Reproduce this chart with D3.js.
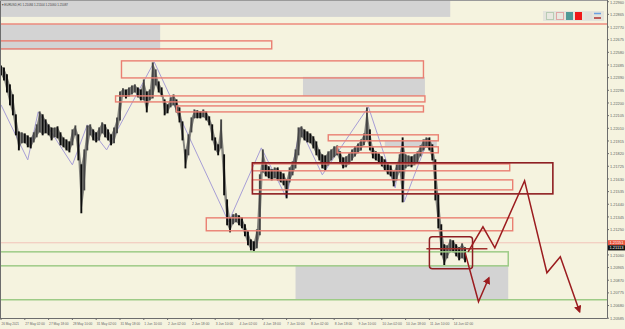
<!DOCTYPE html>
<html><head><meta charset="utf-8">
<script src="https://cdnjs.cloudflare.com/ajax/libs/d3/7.8.5/d3.min.js"></script>
<style>html,body{margin:0;padding:0;background:#f5f3df;}svg{display:block;font-family:"Liberation Sans",Arial,sans-serif;}</style>
</head><body><svg id="c" width="625" height="329"></svg>
<script>
// ---- DATA ----
const symbolTitle = "\u25BE EURUSD,H1  1.21084 1.21104 1.21060 1.21087";
// bar highs / lows, one entry per 2 H1 bars starting 26 May 10:00
const barHigh = [1.22478,1.22463,1.22411,1.22336,1.22261,1.22111,1.21983,1.21976,1.21968,1.21953,
1.21938,1.21976,1.22036,1.22133,1.22111,1.22073,1.22036,1.22013,1.22013,1.22021,
1.21976,1.21938,1.21923,1.21908,1.21998,1.22028,1.21961,1.21736,1.21848,1.22028,
1.22036,1.21998,1.21976,1.22013,1.22051,1.22036,1.21998,1.21961,1.22013,1.22088,
1.22283,1.22306,1.22298,1.22313,1.22328,1.22336,1.22313,1.22298,1.22373,1.22283,
1.22298,1.22501,1.22448,1.22358,1.22313,1.22223,1.22186,1.22238,1.22261,1.22223,
1.22163,1.22058,1.21848,1.21961,1.22088,1.22148,1.22141,1.22133,1.22148,1.22133,
1.22096,1.22036,1.21938,1.21886,1.22073,1.21811,1.21473,1.21338,1.21361,1.21368,
1.21353,1.21338,1.21286,1.21233,1.21173,1.21158,1.21248,1.21661,1.21848,1.21751,
1.21721,1.21698,1.21713,1.21713,1.21683,1.21668,1.21623,1.21713,1.21758,1.21848,
1.22013,1.22021,1.21998,1.21983,1.21968,1.21946,1.21908,1.21848,1.21811,1.21803,
1.21833,1.21848,1.21871,1.21878,1.21833,1.21788,1.21796,1.21818,1.21848,1.21871,
1.21893,1.21923,1.21968,1.22163,1.21998,1.21863,1.21833,1.21818,1.21796,1.21773,
1.21743,1.21728,1.21683,1.21736,1.21811,1.21938,1.21811,1.21803,1.21796,1.21811,
1.21833,1.21878,1.21923,1.21938,1.21938,1.21886,1.21773,1.21511,1.21286,1.21136,
1.21128,1.21173,1.21166,1.21136,1.21113,1.21143,1.21113];
const barLow = [1.22411,1.22373,1.22283,1.22186,1.22111,1.21961,1.21848,1.21901,1.21901,1.21871,
1.21863,1.21908,1.21946,1.21983,1.21961,1.21976,1.21961,1.21923,1.21946,1.21938,
1.21886,1.21871,1.21848,1.21833,1.21886,1.21961,1.21773,1.21376,1.21548,1.21848,
1.21961,1.21923,1.21908,1.21923,1.21976,1.21946,1.21923,1.21886,1.21901,1.21976,
1.22073,1.22253,1.22238,1.22253,1.22268,1.22283,1.22246,1.22223,1.22223,1.22133,
1.22223,1.22238,1.22336,1.22283,1.22253,1.22111,1.22126,1.22171,1.22186,1.22133,
1.22058,1.21923,1.21713,1.21811,1.21983,1.22088,1.22088,1.22088,1.22096,1.22073,
1.22036,1.21923,1.21848,1.21811,1.21863,1.21511,1.21286,1.21233,1.21293,1.21308,
1.21286,1.21263,1.21203,1.21136,1.21098,1.21091,1.21113,1.21211,1.21683,1.21653,
1.21638,1.21623,1.21638,1.21623,1.21608,1.21586,1.21488,1.21608,1.21661,1.21713,
1.21811,1.21946,1.21923,1.21908,1.21901,1.21863,1.21811,1.21773,1.21713,1.21698,
1.21736,1.21773,1.21796,1.21811,1.21751,1.21713,1.21721,1.21743,1.21773,1.21803,
1.21826,1.21848,1.21886,1.21923,1.21848,1.21788,1.21773,1.21758,1.21728,1.21698,
1.21668,1.21653,1.21578,1.21623,1.21683,1.21458,1.21713,1.21728,1.21721,1.21736,
1.21758,1.21803,1.21848,1.21871,1.21848,1.21773,1.21473,1.21263,1.21061,1.20986,
1.21038,1.21083,1.21083,1.21053,1.21023,1.21038,1.21008];
const barStep = 2;

// zigzag indicator vertices [bar index, price]
const zigzagBars   = [0, 18, 25, 48, 58, 71, 103, 153, 175, 192, 201, 216, 247, 265, 270, 271, 287];
const zigzagPrices = [1.22186,1.21773,1.22133,1.21736,1.22036,1.21848,1.22508,1.21308,1.21863,1.21488,1.22013,1.21661,1.22171,1.21563,1.21923,1.21458,1.21923];

// price axis labels
const priceTicks = ["1.22960","1.22865","1.22770","1.22675","1.22580","1.22485","1.22390","1.22295","1.22200","1.22105","1.22010","1.21915","1.21820","1.21725","1.21630","1.21535","1.21440","1.21345","1.21250","1.21155","1.21060","1.20965","1.20870","1.20775","1.20680","1.20585"];
// time axis labels (every 16 bars)
const timeTicks = ["26 May 2021","27 May 02:00","27 May 18:00","28 May 10:00","31 May 02:00","31 May 18:00","1 Jun 10:00","2 Jun 02:00","2 Jun 18:00","3 Jun 10:00","4 Jun 02:00","4 Jun 18:00","7 Jun 10:00","8 Jun 02:00","8 Jun 18:00","9 Jun 10:00","10 Jun 02:00","10 Jun 18:00","11 Jun 10:00","14 Jun 02:00"];
const timeTickStep = 16;

// zones: [startBar, endBar, topPrice, bottomPrice]
const greyZones = [[-2,302,1.22966,1.22846],[-2,107,1.22793,1.22598],[203,285,1.22396,1.22253],[258,293,1.21916,1.21871],[198,341,1.20978,1.20723]];
const redZones = [[-2,182,1.22666,1.22606],[81,284,1.22516,1.22388],[77,285,1.22253,1.22208],[118,284,1.22178,1.22133],[220,294,1.21961,1.21916],[226,294,1.21871,1.21826],[169,342,1.21743,1.21691],[169,344,1.21623,1.21548],[138,344,1.21338,1.21241]];
const maroonZones = [[169,371,1.21751,1.21518]];
const greenZones = [[-2,341,1.21083,1.20978]];
const boxZone = [288,317,1.21196,1.20956];
const redLevel = 1.22793;
const greenLevel = 1.20723;
const maroonSegment = [286,327,1.21106];
const bidPrice = 1.21113, linePrice = 1.21151;
const bidLabel = "1.21113", lineLabel = "1.21151";

// hand-drawn projections [bar, price]
const projA_bars = [314,324,332,352,367,376,389];
const projA_prices = [1.21083,1.21271,1.21113,1.21616,1.20926,1.21046,1.20633];
const projB_bars = [312,321,328];
const projB_prices = [1.21076,1.20708,1.20888];

// ---- DRAW ----
const W=625,H=329, plotR=607, plotB=318;
const svg=d3.select("#c");
svg.append("rect").attr("width",W).attr("height",H).attr("fill","#f5f3df");
const x=d3.scaleLinear().domain([0,400]).range([1,596]);
const y=d3.scaleLinear().domain([+priceTicks[0], +priceTicks[priceTicks.length-1]]).range([1.7,318.2]);

const defs=svg.append("defs");
defs.append("clipPath").attr("id","pc").append("rect").attr("x",0).attr("y",0).attr("width",plotR).attr("height",plotB);
defs.append("marker").attr("id","arr").attr("viewBox","0 0 10 10").attr("refX",8).attr("refY",5)
 .attr("markerWidth",5).attr("markerHeight",5).attr("orient","auto")
 .append("path").attr("d","M0,0L10,5L0,10Z").attr("fill","#9b1c1f");

const g=svg.append("g").attr("clip-path","url(#pc)");

// grey zones
g.selectAll(".gz").data(greyZones).join("rect")
 .attr("x",d=>x(d[0])).attr("width",d=>x(d[1])-x(d[0]))
 .attr("y",d=>y(d[2])).attr("height",d=>y(d[3])-y(d[2])).attr("fill","#d3d3d3");

// levels
g.append("line").attr("x1",0).attr("x2",plotR).attr("y1",y(redLevel)).attr("y2",y(redLevel)).attr("stroke","#ec8a7c").attr("stroke-width",1.5);
g.append("line").attr("x1",0).attr("x2",plotR).attr("y1",y(greenLevel)).attr("y2",y(greenLevel)).attr("stroke","#9dcb86").attr("stroke-width",1.5);
g.append("line").attr("x1",0).attr("x2",plotR).attr("y1",y(linePrice)).attr("y2",y(linePrice)).attr("stroke","#f2c3b8").attr("stroke-width",1);

// zigzag
g.append("path").datum(zigzagBars.map((b,i)=>[b,zigzagPrices[i]]))
 .attr("d",d3.line().x(d=>x(d[0])).y(d=>y(d[1]))).attr("fill","none").attr("stroke","#a79ed6").attr("stroke-width",1);

// bars
const bars=barHigh.map((h,k)=>({i:k*barStep,h,l:barLow[k]}));
g.append("path").datum(bars).attr("d",d3.area().x(d=>x(d.i)).y0(d=>y(d.l)).y1(d=>y(d.h))).attr("fill","#555").attr("opacity",0.7);
g.selectAll(".bar").data(bars).join("line")
 .attr("x1",d=>x(d.i)).attr("x2",d=>x(d.i)).attr("y1",d=>y(d.h)-0.5).attr("y2",d=>y(d.l)+0.5)
 .attr("stroke",(d,k)=> (k>0 && d.h+d.l > bars[k-1].h+bars[k-1].l) ? "#444":"#0d0d0d").attr("stroke-width",1.9);

// red zones
g.selectAll(".rz").data(redZones).join("rect")
 .attr("x",d=>x(d[0])).attr("width",d=>x(d[1])-x(d[0]))
 .attr("y",d=>y(d[2])).attr("height",d=>y(d[3])-y(d[2])).attr("fill","none").attr("stroke","#ea7f72").attr("stroke-width",1.4);
g.selectAll(".mz").data(maroonZones).join("rect")
 .attr("x",d=>x(d[0])).attr("width",d=>x(d[1])-x(d[0]))
 .attr("y",d=>y(d[2])).attr("height",d=>y(d[3])-y(d[2])).attr("fill","none").attr("stroke","#8e1e22").attr("stroke-width",1.6);
g.selectAll(".grz").data(greenZones).join("rect")
 .attr("x",d=>x(d[0])).attr("width",d=>x(d[1])-x(d[0]))
 .attr("y",d=>y(d[2])).attr("height",d=>y(d[3])-y(d[2])).attr("fill","none").attr("stroke","#9dcb86").attr("stroke-width",1.5);

// box + maroon segment
g.append("rect").attr("x",x(boxZone[0])).attr("width",x(boxZone[1])-x(boxZone[0]))
 .attr("y",y(boxZone[2])).attr("height",y(boxZone[3])-y(boxZone[2])).attr("rx",3)
 .attr("fill","none").attr("stroke","#8e1e22").attr("stroke-width",1.5);
g.append("line").attr("x1",x(maroonSegment[0])).attr("x2",x(maroonSegment[1])).attr("y1",y(maroonSegment[2])).attr("y2",y(maroonSegment[2])).attr("stroke","#a0302c").attr("stroke-width",1.4);

// projections
const pl=d3.line().x(d=>x(d[0])).y(d=>y(d[1]));
g.append("path").datum(projA_bars.map((b,i)=>[b,projA_prices[i]])).attr("d",pl).attr("fill","none").attr("stroke","#9b1c1f").attr("stroke-width",1.5).attr("marker-end","url(#arr)");
g.append("path").datum(projB_bars.map((b,i)=>[b,projB_prices[i]])).attr("d",pl).attr("fill","none").attr("stroke","#9b1c1f").attr("stroke-width",1.5).attr("marker-end","url(#arr)");

// frame
svg.append("line").attr("x1",plotR+0.5).attr("x2",plotR+0.5).attr("y1",0).attr("y2",plotB).attr("stroke","#6d6d6d");
svg.append("line").attr("x1",0).attr("x2",plotR+0.5).attr("y1",plotB+0.5).attr("y2",plotB+0.5).attr("stroke","#6d6d6d");
svg.append("line").attr("x1",0.5).attr("x2",0.5).attr("y1",0).attr("y2",plotB).attr("stroke","#6d6d6d");
svg.append("line").attr("x1",0).attr("x2",plotR).attr("y1",0.5).attr("y2",0.5).attr("stroke","#9a9a9a");

// price axis
const pa=svg.append("g");
priceTicks.forEach(t=>{
  const yy=y(+t);
  pa.append("line").attr("x1",plotR).attr("x2",plotR+2).attr("y1",yy).attr("y2",yy).attr("stroke","#6d6d6d");
  pa.append("text").attr("x",plotR+3).attr("y",Math.max(yy+1.6,4)).attr("font-size",4.2)
    .attr("textLength",14).attr("lengthAdjust","spacingAndGlyphs").attr("fill","#666").text(t);
});
[[linePrice,lineLabel,"#e8573f"],[bidPrice,bidLabel,"#111"]].forEach(([p,t,c])=>{
  pa.append("rect").attr("x",plotR+1).attr("y",y(p)-2.6).attr("width",17).attr("height",5.2).attr("fill",c);
  pa.append("text").attr("x",plotR+2.5).attr("y",y(p)+1.6).attr("font-size",4.2)
    .attr("textLength",14).attr("lengthAdjust","spacingAndGlyphs").attr("fill","#fff").text(t);
});

// time axis
const ta=svg.append("g");
timeTicks.forEach((t,k)=>{
  const xx=x(k*timeTickStep);
  ta.append("line").attr("x1",xx).attr("x2",xx).attr("y1",plotB).attr("y2",plotB+2).attr("stroke","#6d6d6d");
  ta.append("text").attr("x",xx+0.5).attr("y",plotB+7).attr("font-size",3.6)
    .attr("textLength",t.length>11?19.5:17.5).attr("lengthAdjust","spacingAndGlyphs").attr("fill","#666").text(t);
});

// title
svg.append("text").attr("x",2).attr("y",5.5).attr("font-size",4.2).attr("textLength",66).attr("lengthAdjust","spacingAndGlyphs").attr("fill","#444").text(symbolTitle);

// legend icons
const lg=svg.append("g");
lg.append("rect").attr("x",543).attr("y",11).attr("width",61).attr("height",10).attr("fill","#e4e4dc");
lg.append("rect").attr("x",546.5).attr("y",12.5).attr("width",7).attr("height",7).attr("fill","#e8e8e0").attr("stroke","#b8ccb4");
lg.append("rect").attr("x",556.5).attr("y",12.5).attr("width",7).attr("height",7).attr("fill","#e8e8e0").attr("stroke","#e0a6a6");
lg.append("rect").attr("x",566).attr("y",12).attr("width",7).attr("height",8).attr("fill","#4f9a97");
lg.append("rect").attr("x",575).attr("y",12).attr("width",7).attr("height",8).attr("fill","#f01818");
lg.append("rect").attr("x",585).attr("y",12).attr("width",7).attr("height",8).attr("fill","#e0e0da");
lg.append("line").attr("x1",594).attr("x2",601).attr("y1",13.5).attr("y2",13.5).attr("stroke","#6aa0e0").attr("stroke-width",1.5);
lg.append("line").attr("x1",594).attr("x2",601).attr("y1",18).attr("y2",18).attr("stroke","#b03030").attr("stroke-width",1.5);
</script></body></html>
